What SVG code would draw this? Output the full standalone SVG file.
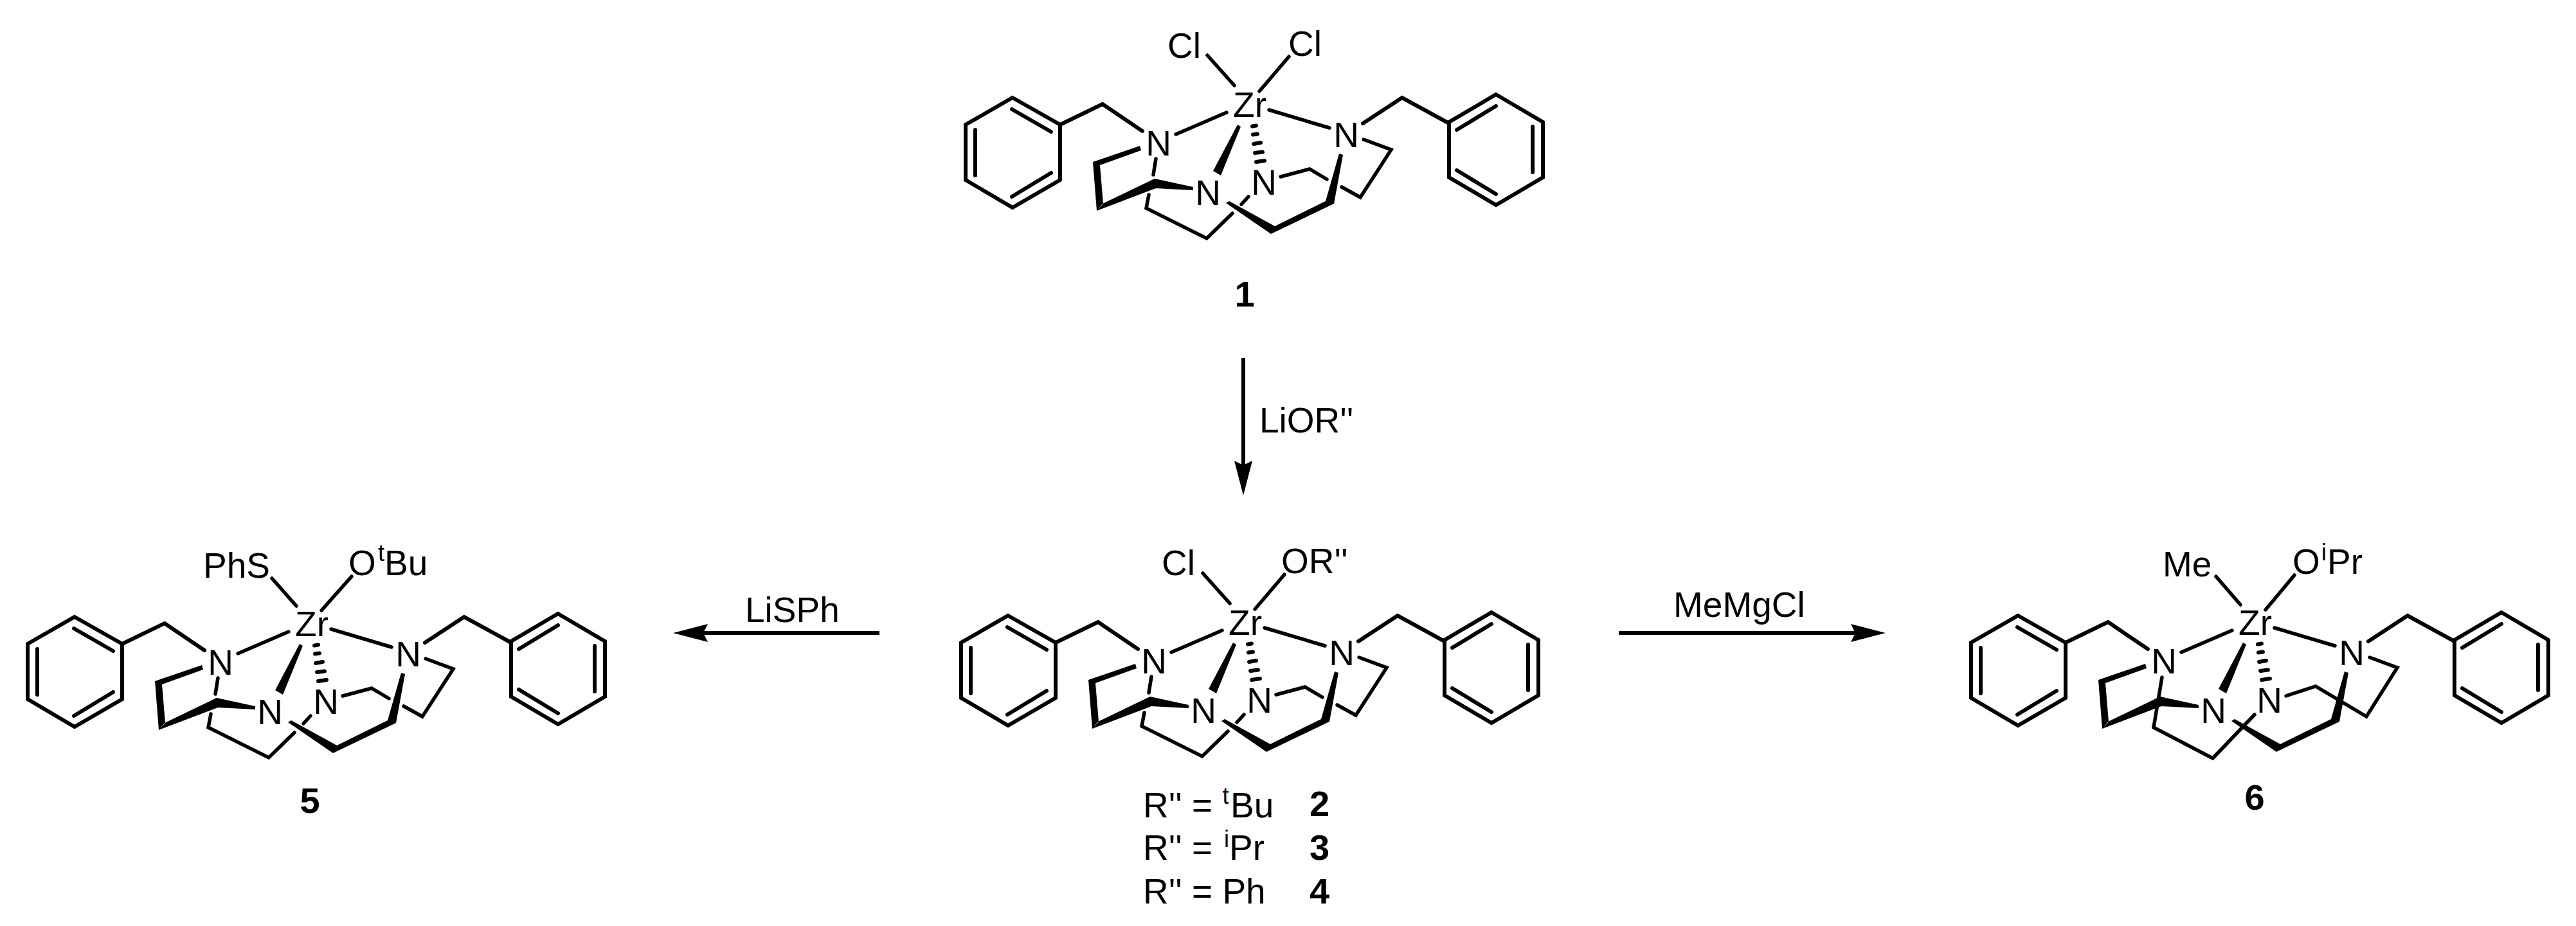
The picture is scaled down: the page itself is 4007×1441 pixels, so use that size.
<svg xmlns="http://www.w3.org/2000/svg" xmlns:xlink="http://www.w3.org/1999/xlink" width="4007" height="1441" viewBox="0 0 4007 1441">
<style>
text{font-family:"Liberation Sans",Arial,sans-serif;font-size:55px;fill:#000}
.m{text-anchor:middle}
.b{font-weight:bold;font-size:56px}
.s{font-size:36px}
.bond{fill:none;stroke:#000;stroke-width:6;stroke-linecap:round;stroke-linejoin:miter}
.thin{fill:none;stroke:#000;stroke-width:5.5;stroke-linecap:round;stroke-linejoin:miter}
.arrow{stroke:#000;stroke-width:6;fill:none;marker-end:url(#head)}
.hash{fill:none;stroke:#000;stroke-width:6;stroke-linecap:round}
</style>
<defs>
<marker id="head" markerUnits="userSpaceOnUse" markerWidth="56" markerHeight="30" refX="7" refY="14" orient="auto"><path d="M0,0L54,14L0,28L7,14Z" fill="#000"/></marker>
<g id="core">
<path class="bond" d="M1575,152L1649,194V280L1575,323L1502,280V194ZM1574,170L1635,205M1517,202V273M1574,306L1635,269M1649,194L1715,162L1777,204"/>
<path class="bond" d="M2327,147L2400,190V276L2327,319L2254,276V190ZM2266,202L2327,165M2384,197V268M2266,265L2327,302M2254,192L2181,152L2120,192"/>
<path class="thin" d="M1908,175L1829,209M1974,171L2068,199"/>
<path d="M1773,227L1775,234L1711,257L1700,252ZM1700,252L1711,257L1716,317L1706,328ZM1706,328L1798,293L1796,278L1715,317ZM1796,278L1856,291L1856,296L1798,293ZM1907,316L1912,313L1983,352L1977,364ZM1977,364L1983,352L2062,313L2075,317ZM2062,313L2075,317L2089,241L2083,239ZM1925,194L1930,197L1899,273L1887,266Z" fill="#000"/>
<path class="hash" d="M1948,196.500L1954,195.500M1949,209.500L1956,208.500M1950,224L1961,222M1952,238L1964,236.500M1954,252L1967,250"/>
<text class="m" x="1802" y="242">N</text>
<text class="m" x="2094" y="229">N</text>
<text class="m" x="1879" y="319">N</text>
<text class="m" x="1966" y="303">N</text>
<text class="m" x="1944" y="182">Zr</text>
</g>
<path id="gap" class="thin" d="M1798,247L1794,272M1787,303L1783,324L1877,371L1917,332M1942,306L1931,318M1992,275L2037,263L2064,279M2087,291L2116,307L2164,233L2121,217"/>
<path id="full" class="thin" d="M1799,248L1786,326L1878,374L1943,306M1992,277L2038,262L2117,309L2165,233L2122,217"/>
</defs>
<g id="connectors">
<line class="arrow" x1="1934" y1="557" x2="1934" y2="724"/>
<line class="arrow" x1="1368" y1="985" x2="1094" y2="985"/>
<line class="arrow" x1="2518" y1="985" x2="2886" y2="985"/>
</g>
<g id="reagents">
<text x="1959" y="673">LiOR''</text>
<text x="1159" y="968">LiSPh</text>
<text x="2603" y="960">MeMgCl</text>
</g>
<g id="node1">
<use href="#core"/><use href="#gap"/>
<path class="thin" d="M1878,86L1920,133M2005,88L1959,142"/>
<text x="1816" y="90">Cl</text><text x="2004" y="87">Cl</text>
<text class="m b" x="1936" y="477">1</text>
</g>
<g id="node2">
<g transform="translate(-7,806)"><use href="#core"/><use href="#gap"/></g>
<path class="thin" d="M1871,892L1913,939M1998,894L1952,948"/>
<text x="1807" y="895">Cl</text><text x="1993" y="892">OR''</text>
<text x="1778" y="1272">R'' = <tspan class="s" dy="-21">t</tspan><tspan x="1914" dy="21">Bu</tspan></text>
<text class="b" x="2037" y="1270">2</text>
<text x="1778" y="1338">R'' = <tspan class="s" x="1904" dy="-20">i</tspan><tspan x="1912" dy="20">Pr</tspan></text>
<text class="b" x="2037" y="1338">3</text>
<text x="1778" y="1406">R'' = Ph</text>
<text class="b" x="2037" y="1406">4</text>
</g>
<g id="node5">
<g transform="translate(-1459,808)"><use href="#core"/><use href="#gap"/></g>
<path class="thin" d="M423,900L461,943M547,897L500,950"/>
<text x="316" y="899">PhS</text>
<text x="542" y="895">O<tspan class="s" x="588" dy="-22">t</tspan><tspan x="598" dy="22">Bu</tspan></text>
<text class="m b" x="482" y="1265">5</text>
</g>
<g id="node6">
<g transform="translate(1564,806)"><use href="#core"/><use href="#full"/></g>
<path class="thin" d="M3447,897L3485,941M3569,895L3524,949"/>
<text x="3364" y="897">Me</text>
<text x="3566" y="893">O<tspan class="s" x="3611" dy="-21">i</tspan><tspan x="3620" dy="21">Pr</tspan></text>
<text class="m b" x="3507" y="1260">6</text>
</g>
</svg>
